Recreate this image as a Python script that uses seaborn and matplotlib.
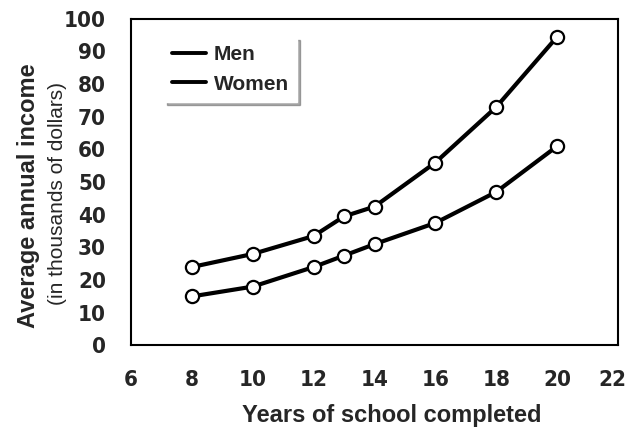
import matplotlib
matplotlib.use("Agg")
import matplotlib.pyplot as plt
import seaborn as sns
import pandas as pd
from matplotlib.lines import Line2D
from matplotlib import font_manager
from matplotlib.font_manager import FontProperties
from matplotlib.transforms import ScaledTranslation

years = [8, 10, 12, 13, 14, 16, 18, 20]
men = [24, 28, 33.5, 39.5, 42.5, 56, 73, 94.5]
women = [15, 18, 24, 27.5, 31, 37.5, 47, 61]
x_ticks = [6, 8, 10, 12, 14, 16, 18, 20, 22]
y_ticks = [0, 10, 20, 30, 40, 50, 60, 70, 80, 90, 100]

df = pd.DataFrame({
    "Years": years * 2,
    "Income": men + women,
    "Sex": ["Men"] * len(years) + ["Women"] * len(years),
})

sns.set_style("white")
plt.rcParams["font.family"] = ["Liberation Sans", "DejaVu Sans"]

# look for a condensed bold face for tick labels
cond = None
for f in font_manager.fontManager.ttflist:
    nm = (f.name + " " + str(f.fname)).lower()
    is_cond = (str(f.stretch) in ("condensed", "semi-condensed", "extra-condensed")
               or "narrow" in nm or "condensed" in nm)
    is_bold = (f.weight in ("bold", 700) or "bold" in str(f.fname).lower())
    if is_cond and is_bold and "oblique" not in nm and "italic" not in nm:
        if cond is None or "liberation" in nm:
            cond = f.fname
if cond is not None:
    tick_fp = FontProperties(fname=cond, size=16)
else:
    tick_fp = FontProperties(family="Liberation Sans", weight="bold", size=14)

fig = plt.figure(figsize=(6.28, 4.28), dpi=100)
ax = fig.add_axes([0.2086, 0.193, 0.7755, 0.763])

sns.lineplot(data=df, x="Years", y="Income", hue="Sex",
             palette={"Men": "black", "Women": "black"},
             marker="o", markersize=9.5, markerfacecolor="white",
             markeredgecolor="black", markeredgewidth=1.6,
             linewidth=3, ax=ax, legend=False)

ax.set_xlim(6, 22)
ax.set_ylim(0, 100)
ax.set_xticks(x_ticks)
ax.set_yticks(y_ticks)
ax.tick_params(axis="both", direction="out", length=11, width=1.5,
               color="black", pad=7)
for lbl in ax.get_xticklabels() + ax.get_yticklabels():
    lbl.set_fontproperties(tick_fp)
for s in ax.spines.values():
    s.set_visible(True)
    s.set_color("black")
    s.set_linewidth(1.5)

# nudge the last x tick label inward, as in the reference
last = ax.xaxis.get_major_ticks()[-1].label1
last.set_transform(last.get_transform() +
                   ScaledTranslation(-0.06, 0, fig.dpi_scale_trans))

ax.set_xlabel("")
ax.set_ylabel("")
fig.text(0.624, 0.014, "Years of school completed", ha="center",
         va="baseline", fontsize=17, fontweight="bold", family="Liberation Sans")
fig.text(0.045, 0.543, "Average annual income", rotation=90, ha="center",
         va="center", fontsize=17, fontweight="bold", family="Liberation Sans")
fig.text(0.091, 0.547, "(in thousands of dollars)", rotation=90, ha="center",
         va="center", fontsize=15, family="Liberation Sans")

handles = [Line2D([0], [0], color="black", lw=2.8),
           Line2D([0], [0], color="black", lw=2.8)]
leg = ax.legend(handles, ["Men", "Women"], loc="upper left",
                bbox_to_anchor=(0.068, 0.945), borderaxespad=0,
                frameon=True, fancybox=False, shadow={"color": "0.35"},
                handlelength=1.6, handletextpad=0.39, labelspacing=0.5,
                borderpad=0.4,
                prop={"family": "Liberation Sans", "weight": "bold", "size": 15})
leg.get_frame().set_edgecolor("white")
leg.get_frame().set_facecolor("white")
leg.get_frame().set_alpha(1)

fig.savefig("out.png", dpi=100)
